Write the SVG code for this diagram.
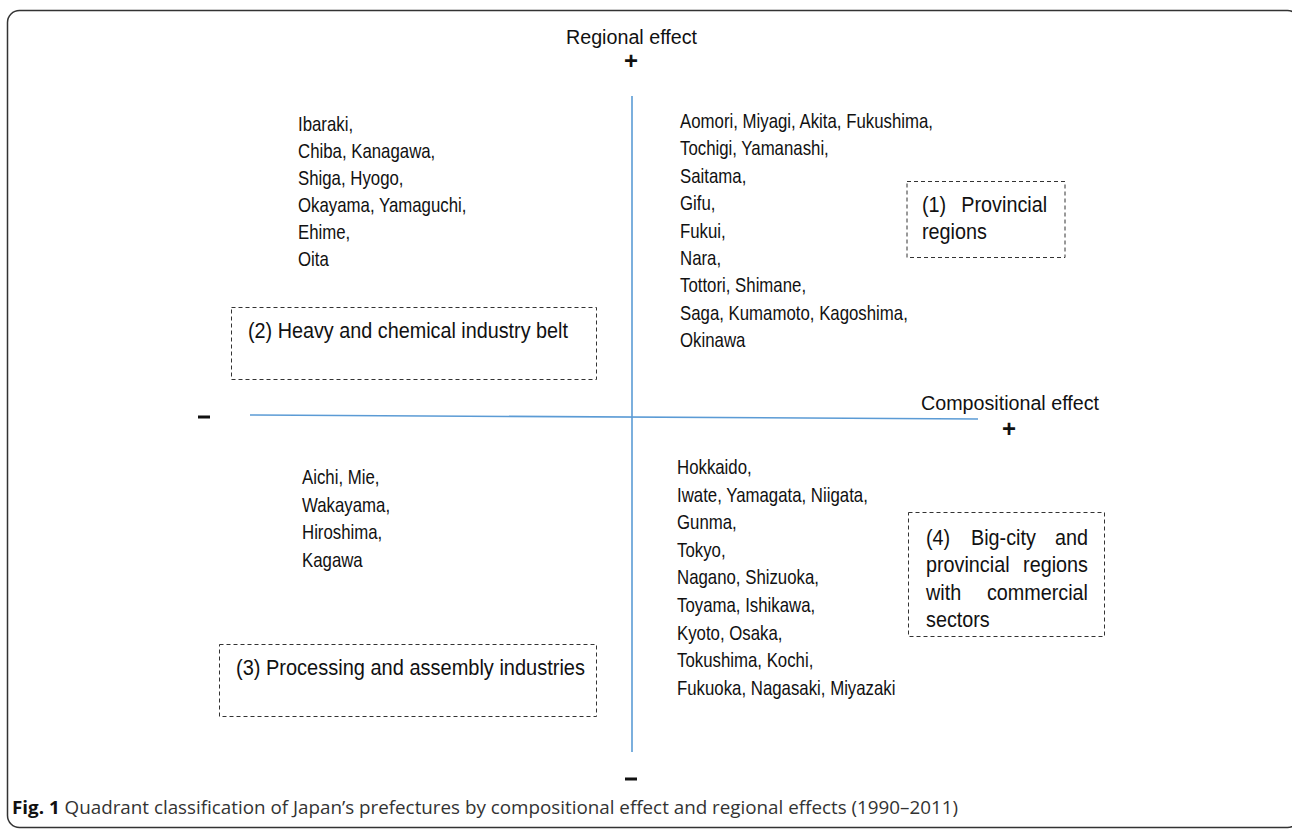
<svg xmlns="http://www.w3.org/2000/svg" width="1292" height="829" viewBox="0 0 1292 829">
<style>
  .t { font-family: "Liberation Sans", Arial, sans-serif; fill: #111; }
  .list { font-size: 20.5px; }
  .lab { font-size: 22px; }
  .ax { font-size: 20px; }
  .sign { font-size: 24px; font-weight: bold; text-anchor: middle; }
  .box { fill: none; stroke: #333; stroke-width: 1; stroke-dasharray: 4 3; }
  .axis { stroke: #5B9BD5; stroke-width: 1.6; fill: none; }
  .cap { font-family: "Open Sans", "Liberation Sans", sans-serif; font-size: 17.5px; fill: #333; }
</style>
<rect x="7.5" y="10.5" width="1292" height="817" rx="12" fill="#fff" stroke="#333" stroke-width="1.5"/>

<g id="connectors">
  <line class="axis" x1="632" y1="96" x2="632" y2="752"/>
  <line class="axis" x1="250" y1="415" x2="978" y2="419"/>
</g>

<g id="axis-labels">
  <text class="t ax" x="566" y="44" textLength="131" lengthAdjust="spacingAndGlyphs">Regional effect</text>
  <text class="t sign" x="631" y="69">+</text>
  <text class="t ax" x="921" y="410" textLength="178" lengthAdjust="spacingAndGlyphs">Compositional effect</text>
  <text class="t sign" x="1009" y="437">+</text>
  <rect x="198" y="415.5" width="12" height="3" fill="#111"/>
  <rect x="625" y="777.5" width="12" height="3" fill="#111"/>
</g>

<g id="list-q2" class="t list" transform="translate(298,0) scale(0.82,1)">
  <text x="0" y="131">Ibaraki,</text>
  <text x="0" y="158">Chiba, Kanagawa,</text>
  <text x="0" y="185">Shiga, Hyogo,</text>
  <text x="0" y="212">Okayama, Yamaguchi,</text>
  <text x="0" y="239">Ehime,</text>
  <text x="0" y="266">Oita</text>
</g>

<g id="list-q1" class="t list" transform="translate(680,0) scale(0.82,1)">
  <text x="0" y="128">Aomori, Miyagi, Akita, Fukushima,</text>
  <text x="0" y="155.4">Tochigi, Yamanashi,</text>
  <text x="0" y="182.8">Saitama,</text>
  <text x="0" y="210.2">Gifu,</text>
  <text x="0" y="237.6">Fukui,</text>
  <text x="0" y="265">Nara,</text>
  <text x="0" y="292.4">Tottori, Shimane,</text>
  <text x="0" y="319.8">Saga, Kumamoto, Kagoshima,</text>
  <text x="0" y="347.2">Okinawa</text>
</g>

<g id="list-q3" class="t list" transform="translate(302,0) scale(0.82,1)">
  <text x="0" y="484">Aichi, Mie,</text>
  <text x="0" y="511.7">Wakayama,</text>
  <text x="0" y="539.4">Hiroshima,</text>
  <text x="0" y="567.1">Kagawa</text>
</g>

<g id="list-q4" class="t list" transform="translate(677,0) scale(0.82,1)">
  <text x="0" y="474">Hokkaido,</text>
  <text x="0" y="501.6">Iwate, Yamagata, Niigata,</text>
  <text x="0" y="529.2">Gunma,</text>
  <text x="0" y="556.8">Tokyo,</text>
  <text x="0" y="584.4">Nagano, Shizuoka,</text>
  <text x="0" y="612">Toyama, Ishikawa,</text>
  <text x="0" y="639.6">Kyoto, Osaka,</text>
  <text x="0" y="667.2">Tokushima, Kochi,</text>
  <text x="0" y="694.8">Fukuoka, Nagasaki, Miyazaki</text>
</g>

<g id="box1">
  <rect class="box" x="907" y="181.5" width="158" height="76"/>
  <g class="t lab" transform="translate(922,0) scale(0.9,1)">
    <text x="0" y="212">(1)</text>
    <text x="139" y="212" text-anchor="end">Provincial</text>
    <text x="0" y="239">regions</text>
  </g>
</g>

<g id="box2">
  <rect class="box" x="231.5" y="307.5" width="365" height="72"/>
  <text class="t lab" x="248" y="338" textLength="320" lengthAdjust="spacingAndGlyphs">(2) Heavy and chemical industry belt</text>
</g>

<g id="box3">
  <rect class="box" x="219.5" y="644.5" width="377" height="72"/>
  <text class="t lab" x="236" y="675" textLength="349" lengthAdjust="spacingAndGlyphs">(3)  Processing and assembly industries</text>
</g>

<g id="box4">
  <rect class="box" x="908.5" y="512.5" width="196" height="124"/>
  <g class="t lab" transform="translate(926,0) scale(0.9,1)">
    <text x="0" y="545">(4)</text>
    <text x="50" y="545">Big-city</text>
    <text x="180" y="545" text-anchor="end">and</text>
    <text x="0" y="572.5">provincial</text>
    <text x="180" y="572.5" text-anchor="end">regions</text>
    <text x="0" y="600">with</text>
    <text x="180" y="600" text-anchor="end">commercial</text>
    <text x="0" y="627.5">sectors</text>
  </g>
</g>

<g id="caption">
  <text class="cap" x="12" y="814" textLength="946" lengthAdjust="spacingAndGlyphs"><tspan font-weight="bold" fill="#111">Fig. 1</tspan> Quadrant classification of Japan’s prefectures by compositional effect and regional effects (1990–2011)</text>
</g>
</svg>
